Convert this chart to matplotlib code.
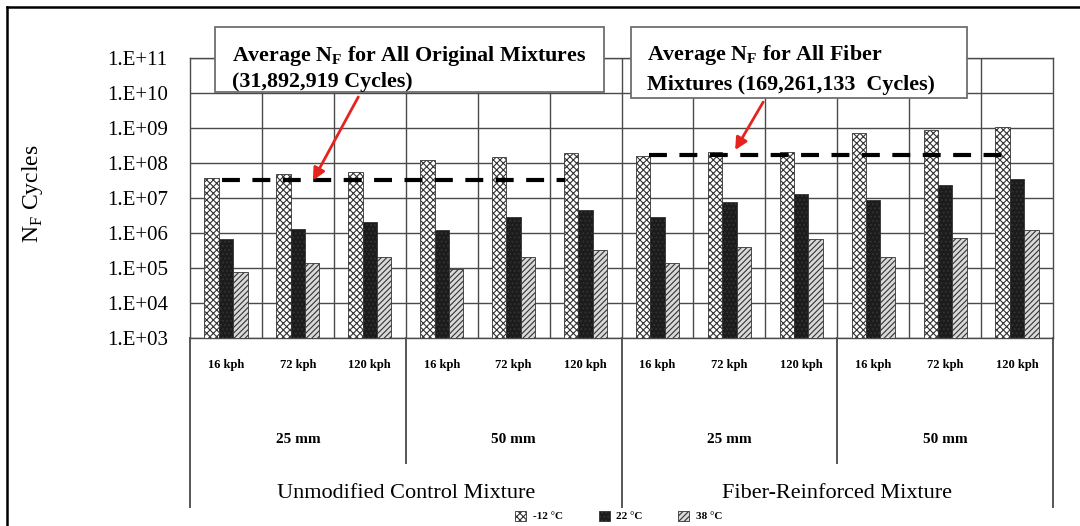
import matplotlib
matplotlib.use('Agg')
import matplotlib.pyplot as plt
import matplotlib.transforms as mtransforms
from matplotlib.patches import Rectangle
from matplotlib.lines import Line2D
import numpy as np

### Data ###
speeds = ['16 kph', '72 kph', '120 kph'] * 4
thickness = ['25 mm', '50 mm', '25 mm', '50 mm']
mixtures = ['Unmodified Control Mixture', 'Fiber-Reinforced Mixture']
temps = ['-12 °C', '22 °C', '38 °C']

nf_m12 = [3.8e7, 4.7e7, 5.7e7, 1.2e8, 1.5e8, 1.9e8, 1.6e8, 2.0e8, 2.1e8, 7.4e8, 8.5e8, 1.05e9]
nf_22 = [6.9e5, 1.3e6, 2.1e6, 1.2e6, 2.9e6, 4.4e6, 2.9e6, 7.9e6, 1.3e7, 8.5e6, 2.3e7, 3.6e7]
nf_38 = [7.8e4, 1.4e5, 2.1e5, 9.6e4, 2.1e5, 3.3e5, 1.4e5, 4.1e5, 6.9e5, 2.1e5, 7.4e5, 1.2e6]

avg_original = 31892919
avg_fiber = 169261133

### Style ###
plt.rcParams['font.family'] = ['Liberation Serif', 'DejaVu Serif']
plt.rcParams['mathtext.fontset'] = 'custom'
plt.rcParams['mathtext.rm'] = 'Liberation Serif'
plt.rcParams['mathtext.bf'] = 'Liberation Serif:bold'
plt.rcParams['hatch.linewidth'] = 0.8

Y_MIN, Y_MAX = 1e3, 1e11
GRID = '#4a4a4a'

fig = plt.figure(figsize=(10.8, 5.26), dpi=100)
ax = fig.add_axes([190/1080, 188/526, 863/1080, 280/526])

x = np.arange(len(speeds))
w = 0.2
series = [nf_m12, nf_22, nf_38]
faces = ['white', '#1c1c1c', '#d9d9d9']
hatches = ['xxxxx', '....', '//////']
bars = []
for k, vals in enumerate(series):
    vals = np.array(vals)
    b = ax.bar(x + (k - 1)*w, vals - Y_MIN, bottom=Y_MIN, width=w, color=faces[k],
               hatch=hatches[k], edgecolor='#333333', linewidth=0.6, zorder=3, label=temps[k])
    bars.append(b)

ax.set_yscale('log')
ax.set_ylim(Y_MIN, Y_MAX)
ax.set_xlim(-0.5, len(speeds) - 0.5)
ax.yaxis.set_major_locator(matplotlib.ticker.LogLocator(base=10, numticks=20))
ax.yaxis.set_minor_locator(matplotlib.ticker.NullLocator())
ax.yaxis.set_major_formatter(matplotlib.ticker.FuncFormatter(
    lambda v, p: '1.E+%02d' % int(round(np.log10(v)))))
ax.set_xticks(x, speeds)
ax.set_xticks(x[:-1] + 0.5, minor=True)
ax.tick_params(axis='both', which='both', length=0)
ax.tick_params(axis='y', labelsize=15, pad=16)
ax.tick_params(axis='x', labelsize=9, pad=15)
for lab in ax.get_xticklabels():
    lab.set_fontweight('bold')
ax.grid(axis='y', which='major', color=GRID, lw=1.0, zorder=0)
ax.grid(axis='x', which='minor', color=GRID, lw=1.0, zorder=0)
ax.set_axisbelow(True)
for s in ax.spines.values():
    s.set_color(GRID)
    s.set_linewidth(1.0)

ax.set_ylabel('N$_\\mathrm{F}$ Cycles', fontsize=17)
ax.yaxis.set_label_coords(-0.168, 0.515)

## Average lines
ax.hlines(avg_original, -0.06, 4.72, colors='black', lw=3, linestyles=(0, (4.3, 3.0)), zorder=5)
ax.hlines(avg_fiber, 5.88, 10.9, colors='black', lw=3, linestyles=(0, (4.3, 3.0)), zorder=5)

## Boxes with averages
trans = mtransforms.blended_transform_factory(ax.transData, ax.transAxes)
for (x0, x1, y0, y1) in [(-0.152, 5.258, 0.879, 1.111), (5.633, 10.307, 0.857, 1.111)]:
    ax.add_patch(Rectangle((x0, y0), x1 - x0, y1 - y0, transform=trans, facecolor='white',
                           edgecolor='#6e6e6e', lw=1.3, clip_on=False, zorder=6))
box_txt = dict(transform=trans, fontsize=15.8, fontweight='bold', ha='left', va='baseline', zorder=7)
ax.text(0.084, 0.989, 'Average N$_\\mathbf{F}$ for All Original Mixtures', **box_txt)
ax.text(0.084, 0.896, '(31,892,919 Cycles)', **box_txt)
ax.text(5.856, 0.993, 'Average N$_\\mathbf{F}$ for All Fiber', **box_txt)
ax.text(5.856, 0.884, 'Mixtures (169,261,133  Cycles)', **box_txt)

arrow = dict(arrowstyle='-|>', color='#e5231f', lw=2, mutation_scale=18, shrinkA=0, shrinkB=0)
ax.annotate('', xy=(1.21, avg_original), xytext=(1.84, 7.7e9), arrowprops=arrow, zorder=7)
ax.annotate('', xy=(7.08, 2.35e8), xytext=(7.47, 5.5e9), arrowprops=arrow, zorder=7)

## Group labels under the axis
for i, t in enumerate(thickness):
    ax.text(3*i + 1, -0.364, t, transform=trans, fontsize=11, fontweight='bold',
            ha='center', va='center')
for i, m in enumerate(mixtures):
    ax.text(6*i + 2.5, -0.556, m, transform=trans, fontsize=16, ha='center', va='center')
for b in np.arange(-0.5, len(speeds), 3):
    depth = -0.604 if (b + 0.5) % 6 == 0 else -0.446
    ax.plot([b, b], [0, depth], transform=trans, color='#555555', lw=1.4, clip_on=False)

## Legend
fig.legend(handles=bars, labels=temps, loc='center', bbox_to_anchor=(0.573, 0.019), ncol=3,
           frameon=False, prop={'size': 8, 'weight': 'bold'}, handlelength=1.0, handleheight=1.0,
           columnspacing=3.2, handletextpad=0.6)

## Outer frame
fig.add_artist(Line2D([7/1080, 7/1080], [0, 1 - 7/526], transform=fig.transFigure, color='black', lw=1.8))
fig.add_artist(Line2D([7/1080, 1], [1 - 7/526, 1 - 7/526], transform=fig.transFigure, color='black', lw=1.8))

fig.savefig('out.png', dpi=100)
